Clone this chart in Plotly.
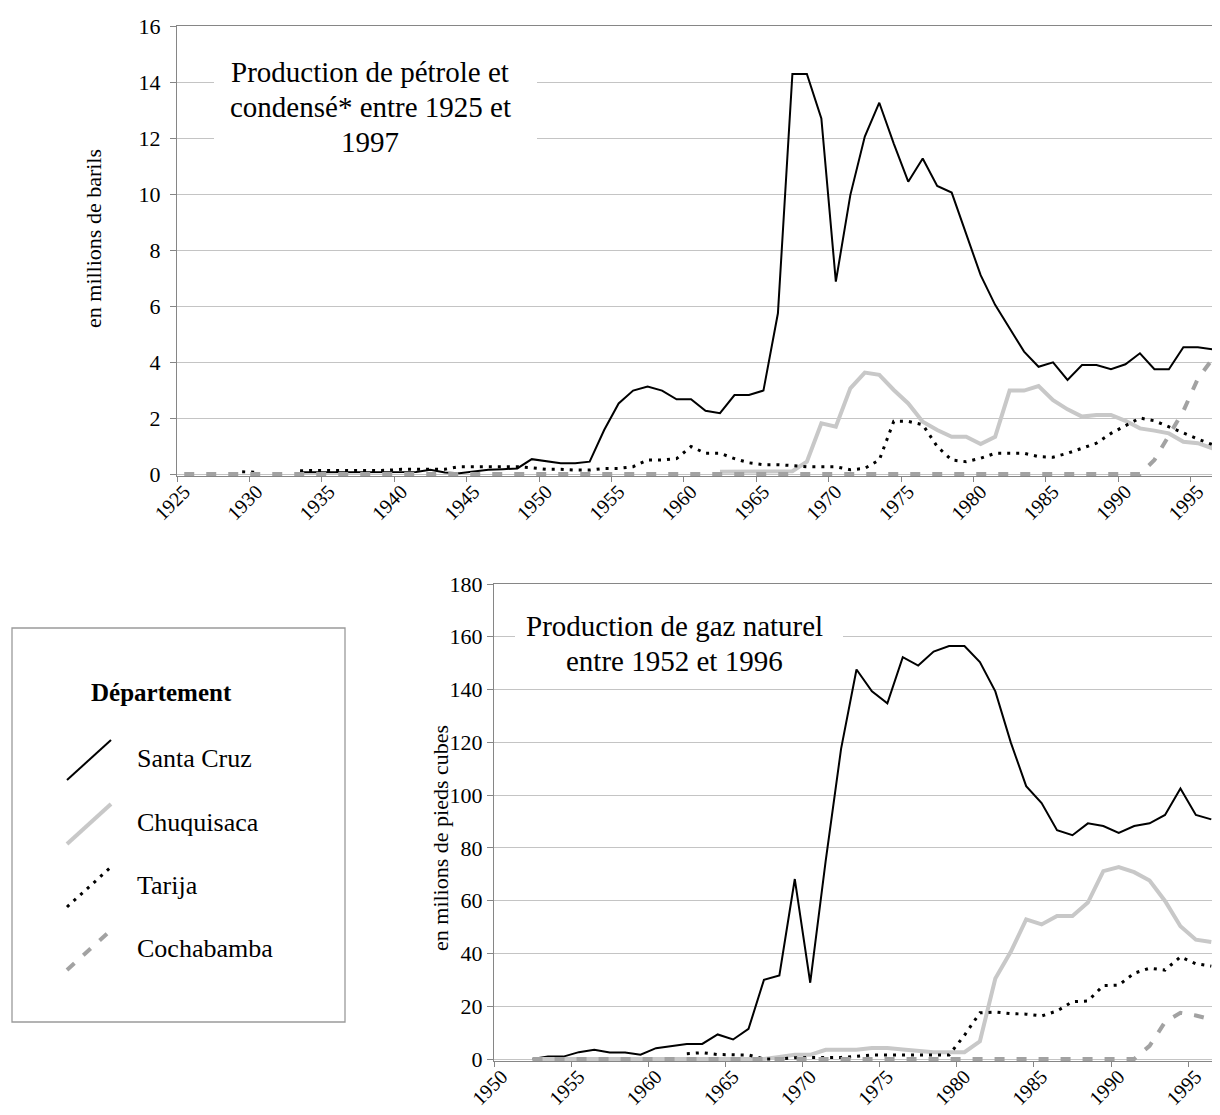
import plotly.graph_objects as go

# ---------------- DATA ----------------
years_oil = list(range(1925, 1998))
years_gas = list(range(1950, 1997))
oil_tick_years = [1925, 1930, 1935, 1940, 1945, 1950, 1955, 1960, 1965, 1970, 1975, 1980, 1985, 1990, 1995]
gas_tick_years = [1950, 1955, 1960, 1965, 1970, 1975, 1980, 1985, 1990, 1995]
oil_y_ticks = [0, 2, 4, 6, 8, 10, 12, 14, 16]
gas_y_ticks = [0, 20, 40, 60, 80, 100, 120, 140, 160, 180]

# Oil (millions of barrels), 1925-1997
santa_cruz_oil = [None, None, None, None, None, None, None, None,
                  0.06, 0.06, 0.07, 0.06, 0.06, 0.07, 0.06, 0.06, 0.07, 0.15,
                  0.05, 0.03, 0.10, 0.15, 0.17, 0.20, 0.53, 0.45, 0.38, 0.38,
                  0.44, 1.57, 2.52, 2.98, 3.12, 2.98, 2.67, 2.67, 2.26, 2.17,
                  2.82, 2.82, 2.98, 5.74, 14.29, 14.29, 12.70, 6.87, 9.96, 12.05,
                  13.26, 11.80, 10.44, 11.27, 10.29, 10.05, 8.60, 7.10, 6.04, 5.20,
                  4.37, 3.83, 3.99, 3.36, 3.89, 3.89, 3.74, 3.92, 4.31, 3.74,
                  3.74, 4.53, 4.53, 4.45, 5.40]
chuquisaca_oil = [None] * 37 + [
                  0.08, 0.08, 0.08, 0.08, 0.08, 0.10, 0.44, 1.81, 1.69, 3.06,
                  3.62, 3.54, 3.00, 2.52, 1.87, 1.57, 1.33, 1.33, 1.07, 1.33,
                  2.98, 2.98, 3.14, 2.64, 2.31, 2.05, 2.11, 2.11, 1.90, 1.63,
                  1.55, 1.45, 1.15, 1.10, 0.92, 0.80]
tarija_oil = [None, None, None, None, 0.08, 0.06, None, None,
              0.12, 0.12, 0.12, 0.12, 0.12, 0.12, 0.13, 0.17, 0.17, 0.17,
              0.17, 0.26, 0.26, 0.26, 0.26, 0.26, 0.22, 0.17, 0.17, 0.14,
              0.14, 0.20, 0.20, 0.26, 0.50, 0.50, 0.55, 0.98, 0.74, 0.74,
              0.55, 0.40, 0.33, 0.33, 0.30, 0.26, 0.26, 0.26, 0.15, 0.20,
              0.50, 1.88, 1.88, 1.76, 0.98, 0.50, 0.44, 0.56, 0.74, 0.74,
              0.74, 0.62, 0.60, 0.74, 0.92, 1.10, 1.45, 1.72, 2.00, 1.90,
              1.68, 1.45, 1.25, 1.05, 0.70]
cochabamba_oil = [0, 0, 0, 0, 0, 0, 0, 0, 0, 0, 0, 0, 0, 0, 0, 0, 0, 0, 0, 0,
                  0, 0, 0, 0, 0, 0, 0, 0, 0, 0, 0, 0, 0, 0, 0, 0, 0, 0, 0, 0,
                  0, 0, 0, 0, 0, 0, 0, 0, 0, 0, 0, 0, 0, 0, 0, 0, 0, 0, 0, 0,
                  0, 0, 0, 0, 0, 0, 0, 0.50, 1.38, 2.25, 3.40, 4.10, 4.50]

# Natural gas (millions of cubic feet), 1950-1996
santa_cruz_gas = [None, None, 0.0, 0.9, 0.9, 2.6, 3.5, 2.5, 2.5, 1.6,
                  4.1, 4.8, 5.7, 5.7, 9.3, 7.4, 11.4, 30.0, 31.7, 68.2,
                  28.9, 75.0, 117.5, 147.6, 139.3, 134.8, 152.3, 149.1, 154.4, 156.5,
                  156.5, 150.4, 139.3, 120.0, 103.4, 97.0, 86.7, 84.8, 89.3, 88.3,
                  85.7, 88.3, 89.3, 92.5, 102.5, 92.5, 90.8]
chuquisaca_gas = [None, None, 0, 0, 0, 0, 0, 0, 0, 0,
                  0, 0, 0, 0, 0, 0, 0, 0, 0.8, 1.6,
                  1.6, 3.5, 3.5, 3.5, 4.2, 4.2, 3.6, 3.0, 2.6, 2.6,
                  2.6, 6.7, 30.5, 40.6, 52.9, 51.0, 54.2, 54.2, 59.3, 71.2,
                  72.7, 70.8, 67.6, 59.9, 50.3, 45.2, 44.3]
tarija_gas = [None, None, None, None, None, None, None, None, None, None,
              None, None, 2.0, 2.4, 1.7, 1.5, 1.5, 0.0, 0.0, 0.5,
              0.5, 0.5, 0.6, 1.0, 1.5, 1.5, 1.5, 1.5, 1.5, 1.5,
              9.0, 17.5, 17.8, 17.2, 17.0, 16.3, 18.2, 21.7, 22.0, 27.8,
              28.0, 32.5, 34.4, 33.7, 38.7, 36.1, 35.2]
cochabamba_gas = [None, None, 0, 0, 0, 0, 0, 0, 0, 0,
                  0, 0, 0, 0, 0, 0, 0, 0, 0, 0,
                  0, 0, 0, 0, 0, 0, 0, 0, 0, 0,
                  0, 0, 0, 0, 0, 0, 0, 0, 0, 0,
                  0, 0, 5.0, 14.0, 17.5, 16.5, 15.0]

departments = ["Santa Cruz", "Chuquisaca", "Tarija", "Cochabamba"]

# ---------------- STYLE ----------------
# the page body has an 8px margin: the figure is sized to fill the rest of the window
OFF = 8
W, H = 1220 - OFF, 1115 - OFF
FONT = "Liberation Serif, Times New Roman, serif"
GRID = "#c4c4c4"
AXIS = "#868686"
styles = {
    "Santa Cruz": dict(color="black", width=2, dash="solid"),
    "Chuquisaca": dict(color="#c8c8c8", width=4, dash="solid"),
    "Tarija": dict(color="black", width=3, dash="3px,6px"),
    "Cochabamba": dict(color="#a2a2a2", width=4, dash="10px,12px"),
}


def px(x):
    return (x - OFF) / W


def py(y):
    return 1 - (y - OFF) / H


fig = go.Figure()

oil = {"Santa Cruz": santa_cruz_oil, "Chuquisaca": chuquisaca_oil,
       "Tarija": tarija_oil, "Cochabamba": cochabamba_oil}
gas = {"Santa Cruz": santa_cruz_gas, "Chuquisaca": chuquisaca_gas,
       "Tarija": tarija_gas, "Cochabamba": cochabamba_gas}

for d in departments:
    fig.add_trace(go.Scatter(x=years_oil, y=oil[d], mode="lines", name=d,
                             line=styles[d], showlegend=False,
                             xaxis="x", yaxis="y", connectgaps=False))
for d in departments:
    fig.add_trace(go.Scatter(x=years_gas, y=gas[d], mode="lines", name=d,
                             line=styles[d], showlegend=False,
                             xaxis="x2", yaxis="y2", connectgaps=False))

tickfont = dict(family=FONT, size=20, color="black")
ytickfont = dict(family=FONT, size=22, color="black")

# value 0 sits 2px above the axis line so that the zero-level lines are not cut in half
oil_px_per_unit = (474 - 26) / 16
gas_px_per_unit = (1059 - 584) / 180

fig.update_layout(
    width=W, height=H,
    margin=dict(l=0, r=0, t=0, b=0, pad=0),
    paper_bgcolor="white", plot_bgcolor="white",
    font=dict(family=FONT, color="black"),
    xaxis=dict(domain=[px(177), 1.0], range=[1924.5, 1996.53], anchor="y",
               tickmode="array", tickvals=oil_tick_years,
               ticktext=[str(v) for v in oil_tick_years],
               tickangle=-45, ticks="", tickfont=tickfont, ticklabelstandoff=-5,
               showline=True, linecolor=AXIS, linewidth=1.3, mirror=True,
               showgrid=False, zeroline=False, automargin=False,
               minor=dict(tick0=1924.5, dtick=5, ticks="outside", ticklen=5,
                          tickcolor=AXIS, showgrid=False)),
    yaxis=dict(domain=[py(476), py(26)], range=[-2 / oil_px_per_unit, 16], anchor="x",
               tickmode="array", tickvals=oil_y_ticks, tickfont=ytickfont,
               showgrid=True, gridcolor=GRID, gridwidth=1,
               showline=True, linecolor=AXIS, linewidth=1.3,
               ticks="outside", ticklen=6, tickcolor=AXIS, ticklabelstandoff=5,
               zeroline=False, automargin=False),
    xaxis2=dict(domain=[px(494), px(1219)], range=[1949.5, 1996.5], anchor="y2",
                tickmode="array", tickvals=gas_tick_years,
                ticktext=[str(v) for v in gas_tick_years],
                tickangle=-45, ticks="", tickfont=tickfont, ticklabelstandoff=-5,
                showline=True, linecolor=AXIS, linewidth=1.3, mirror=True,
                showgrid=False, zeroline=False, automargin=False,
                minor=dict(tick0=1949.5, dtick=5, ticks="outside", ticklen=5,
                           tickcolor=AXIS, showgrid=False)),
    yaxis2=dict(domain=[py(1061), py(584)], range=[-2 / gas_px_per_unit, 180], anchor="x2",
                tickmode="array", tickvals=gas_y_ticks, tickfont=ytickfont,
                showgrid=True, gridcolor=GRID, gridwidth=1,
                showline=True, linecolor=AXIS, linewidth=1.3, mirror=True,
                ticks="outside", ticklen=6, tickcolor=AXIS,
                zeroline=False, automargin=False),
)

shapes = []
annotations = []

# title boxes (white) hiding gridlines
shapes.append(dict(type="rect", xref="paper", yref="paper",
                   x0=px(214), x1=px(537), y0=py(165), y1=py(40),
                   fillcolor="white", line=dict(width=0), layer="above"))
shapes.append(dict(type="rect", xref="paper", yref="paper",
                   x0=px(515), x1=px(843), y0=py(682), y1=py(598),
                   fillcolor="white", line=dict(width=0), layer="above"))

title_font = dict(family=FONT, size=29, color="black")
for txt, yy in [("Production de pétrole et", 72), ("condensé* entre 1925 et", 107), ("1997", 142)]:
    annotations.append(dict(text=txt, x=px(370), y=py(yy), xref="paper", yref="paper",
                            showarrow=False, xanchor="center", yanchor="middle", font=title_font))
for txt, yy in [("Production de gaz naturel", 626), ("entre 1952 et 1996", 661)]:
    annotations.append(dict(text=txt, x=px(674), y=py(yy), xref="paper", yref="paper",
                            showarrow=False, xanchor="center", yanchor="middle", font=title_font))

# axis titles
annotations.append(dict(text="en millions de barils", x=px(93), y=py(239), xref="paper", yref="paper",
                        showarrow=False, textangle=-90, xanchor="center", yanchor="middle",
                        font=dict(family=FONT, size=22, color="black")))
annotations.append(dict(text="en milions de pieds cubes", x=px(440), y=py(838), xref="paper", yref="paper",
                        showarrow=False, textangle=-90, xanchor="center", yanchor="middle",
                        font=dict(family=FONT, size=22, color="black")))

# legend box
shapes.append(dict(type="rect", xref="paper", yref="paper",
                   x0=px(12), x1=px(345), y0=py(1022), y1=py(628),
                   fillcolor="white", line=dict(color="#9a9a9a", width=1.3), layer="above"))
annotations.append(dict(text="<b>Département</b>", x=px(161), y=py(692), xref="paper", yref="paper",
                        showarrow=False, xanchor="center", yanchor="middle",
                        font=dict(family=FONT, size=25, color="black")))
legend_rows = [758, 822, 885, 948]
for d, yy in zip(departments, legend_rows):
    st = styles[d]
    shapes.append(dict(type="line", xref="paper", yref="paper",
                       x0=px(67), y0=py(yy + 22), x1=px(111), y1=py(yy - 18),
                       line=dict(color=st["color"], width=st["width"], dash=st["dash"]),
                       layer="above"))
    annotations.append(dict(text=d, x=px(135), y=py(yy), xref="paper", yref="paper",
                            showarrow=False, xanchor="left", yanchor="middle",
                            font=dict(family=FONT, size=26, color="black")))

fig.update_layout(shapes=shapes, annotations=annotations)

fig.write_html("out.html")
